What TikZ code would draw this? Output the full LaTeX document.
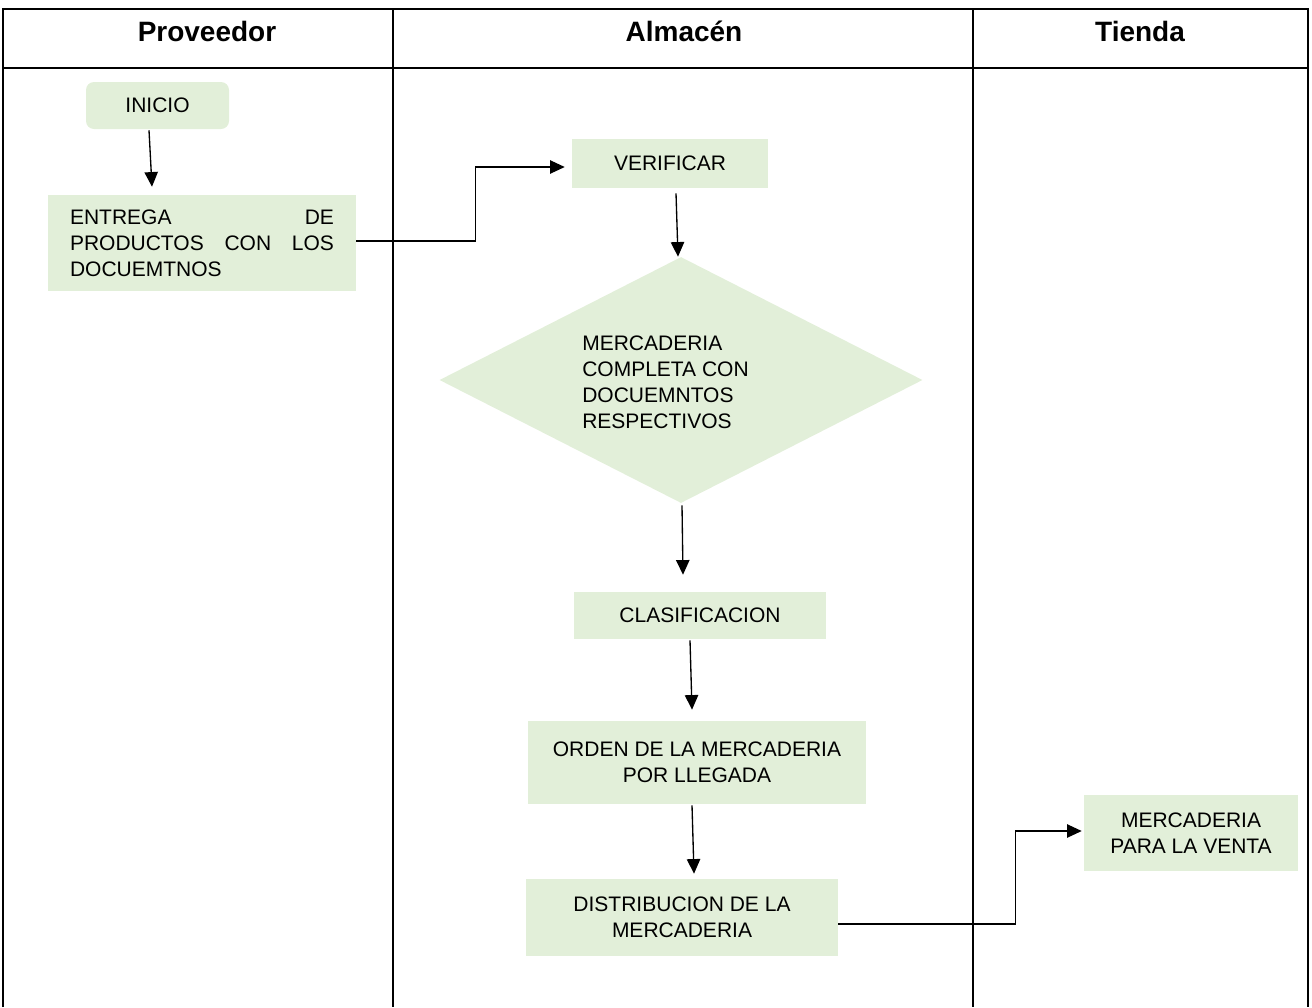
\documentclass[tikz,border=0pt]{standalone}
\usepackage{fontspec}
\setmainfont{Liberation Sans}
\usetikzlibrary{shapes.geometric,arrows.meta,calc}
\definecolor{boxgreen}{HTML}{E2EFD9}
\newcommand{\bodyfnt}{\fontsize{15.75}{19.5}\selectfont}
\begin{document}
\begin{tikzpicture}[x=0.75pt,y=-0.75pt,
  procbox/.style={fill=boxgreen,draw=none,inner sep=0pt,font=\bodyfnt,align=center},
  arr/.style={-{Triangle[length=11pt,width=10pt]},line width=1pt},
  tableline/.style={line width=1.5pt},
  headtext/.style={font=\fontsize{21}{25}\selectfont\bfseries}]
\useasboundingbox (0,0) rectangle (1312,1007);
% table
\draw[tableline] (3,1007) -- (3,9) -- (1308,9) -- (1308,1007);
\draw[tableline] (3,68) -- (1308,68);
\draw[tableline] (393,9) -- (393,1007);
\draw[tableline] (973,9) -- (973,1007);
\node[headtext] (hprov) at (207,31) {Proveedor};
\node[headtext] (halm) at (684,31) {Almacén};
\node[headtext] (htie) at (1140,31) {Tienda};
% nodes
\node[procbox,rounded corners=6pt,minimum width=107.25pt,minimum height=35.25pt] (inicio) at (157.5,105.5) {INICIO};
\node[procbox,minimum width=231pt,minimum height=72pt,text width=198pt,align=left] (entrega) at (202,243)
  {\makebox[198pt]{ENTREGA\hfill DE}\\\makebox[198pt]{PRODUCTOS\hfill CON\hfill LOS}\\DOCUEMTNOS};
\node[procbox,minimum width=147pt,minimum height=36.75pt] (verif) at (670,163.5) {VERIFICAR};
\node[diamond,fill=boxgreen,draw=none,inner sep=0pt,minimum width=362.25pt,minimum height=184.5pt] (dec) at (681,380) {};
\node[font=\bodyfnt,align=left,anchor=west,inner sep=0pt] (dectext) at (582,382)
  {MERCADERIA\\COMPLETA CON\\DOCUEMNTOS\\RESPECTIVOS};
\node[procbox,minimum width=189pt,minimum height=35.25pt] (clas) at (700,615.5) {CLASIFICACION};
\node[procbox,minimum width=253.5pt,minimum height=62.25pt] (orden) at (697,762.5) {ORDEN DE LA MERCADERIA\\POR LLEGADA};
\node[procbox,minimum width=234pt,minimum height=57.75pt] (dist) at (682,917.5) {DISTRIBUCION DE LA\\MERCADERIA};
\node[procbox,minimum width=160.5pt,minimum height=57pt] (venta) at (1191,833) {MERCADERIA\\PARA LA VENTA};
% connectors
\draw[arr] ($(inicio.south)+(-8.5,1)$) -- ($(entrega.north)+(-50,-8)$);
\draw[arr] ($(entrega.east)+(0,-2)$) -- ++(119,0) |- ($(verif.west)+(-7,3.5)$);
\draw[arr] ($(verif.south)+(6,5)$) -- ($(dec.north)+(-3,0)$);
\draw[arr] ($(dec.south)+(1,2)$) -- ($(clas.north)+(-17,-17)$);
\draw[arr] ($(clas.south)+(-10,1)$) -- ($(orden.north)+(-5,-11)$);
\draw[arr] ($(orden.south)+(-5,1)$) -- ($(dist.north)+(12,-5)$);
\draw[arr] ($(dist.east)+(0,6.5)$) -- ++(177,0) |- ($(venta.west)+(-2,-2)$);
\end{tikzpicture}
\end{document}
